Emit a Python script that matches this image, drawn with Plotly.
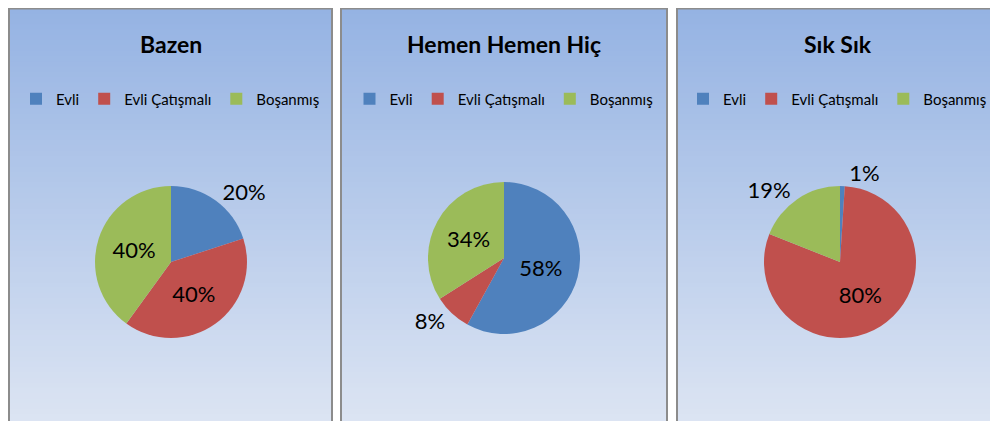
import plotly.graph_objects as go

# ---- data ----
categories = ["Evli", "Evli Çatışmalı", "Boşanmış"]
titles = ["Bazen", "Hemen Hemen Hiç", "Sık Sık"]
bazen = [20, 40, 40]
hemen_hemen_hic = [58, 8, 34]
sik_sik = [1, 80, 19]
series = [bazen, hemen_hemen_hic, sik_sik]
text_positions = [["outside", "inside", "inside"],
                  ["inside", "outside", "inside"],
                  ["outside", "inside", "outside"]]

colors = ["#4F81BD", "#C0504D", "#9BBB59"]
FONT = "Lato, 'Open Sans', sans-serif"

# page body has an 8px margin: figure drawn 8px right/down of the window origin
OFF = 8
W, H = 990, 413


def px(x):
    return (x - OFF) / W


def py(y):
    return 1 - (y - OFF) / H


# panel geometry (window pixels)
panels = [(9, 332), (341, 667), (677, 1010)]
panel_top = 8.5
pie_centers = [(171, 262), (504, 258), (840, 262)]
R = 76

fig = go.Figure()
shapes = []
annotations = []

top_rgb = (149, 179, 227)
bot_rgb = (221, 229, 243)
nstrips = 80
for (x0, x1) in panels:
    for i in range(nstrips):
        t = i / (nstrips - 1)
        c = tuple(round(top_rgb[k] + (bot_rgb[k] - top_rgb[k]) * t) for k in range(3))
        ya = panel_top + (430 - panel_top) * i / nstrips
        yb = panel_top + (430 - panel_top) * (i + 1) / nstrips + 0.8
        shapes.append(dict(type="rect", xref="paper", yref="paper",
                           x0=px(x0), x1=px(x1), y0=py(yb), y1=py(ya),
                           fillcolor="rgb(%d,%d,%d)" % c, line=dict(width=0),
                           layer="below"))
    shapes.append(dict(type="rect", xref="paper", yref="paper",
                       x0=px(x0), x1=px(x1), y0=py(440), y1=py(panel_top),
                       fillcolor="rgba(0,0,0,0)",
                       line=dict(color="#8C8C8C", width=2), layer="above"))

legend_names = ["legend", "legend2", "legend3"]
for k, (vals, title) in enumerate(zip(series, titles)):
    cx, cy = pie_centers[k]
    x0, x1 = panels[k]
    # zero-width suffix keeps each pie's legend entries separate
    labels = [c + "\u200b" * k for c in categories]
    fig.add_trace(go.Pie(
        labels=labels, values=vals, sort=False, direction="clockwise",
        rotation=0,
        marker=dict(colors=colors, line=dict(width=0)),
        texttemplate="%{percent:.0%}", textposition=text_positions[k],
        textfont=dict(size=22, color="black", family=FONT),
        insidetextfont=dict(size=22, color="black", family=FONT),
        outsidetextfont=dict(size=22, color="black", family=FONT),
        domain=dict(x=[px(cx - R), px(cx + R)],
                    y=[py(cy + R), py(cy - R)]),
        legend=legend_names[k], showlegend=True, hoverinfo="label+percent",
    ))
    cxp = (x0 + min(x1, 998)) / 2
    annotations.append(dict(text="<b>%s</b>" % title, xref="paper", yref="paper",
                            x=px(cxp), y=py(44),
                            showarrow=False, xanchor="center", yanchor="middle",
                            font=dict(size=23, color="black", family=FONT)))

legend_common = dict(orientation="h", bgcolor="rgba(0,0,0,0)",
                     font=dict(size=15, color="black", family=FONT),
                     xanchor="center", yanchor="middle", itemwidth=30,
                     tracegroupgap=0)
layout_legends = {}
for k, name in enumerate(legend_names):
    x0, x1 = panels[k]
    cxp = (x0 + min(x1, 998)) / 2
    layout_legends[name] = dict(legend_common, x=px(cxp), y=py(99))

fig.update_layout(
    width=W, height=H, margin=dict(l=0, r=0, t=0, b=0),
    paper_bgcolor="white", plot_bgcolor="white",
    shapes=shapes, annotations=annotations,
    **layout_legends,
)

fig.write_html("out.html")
